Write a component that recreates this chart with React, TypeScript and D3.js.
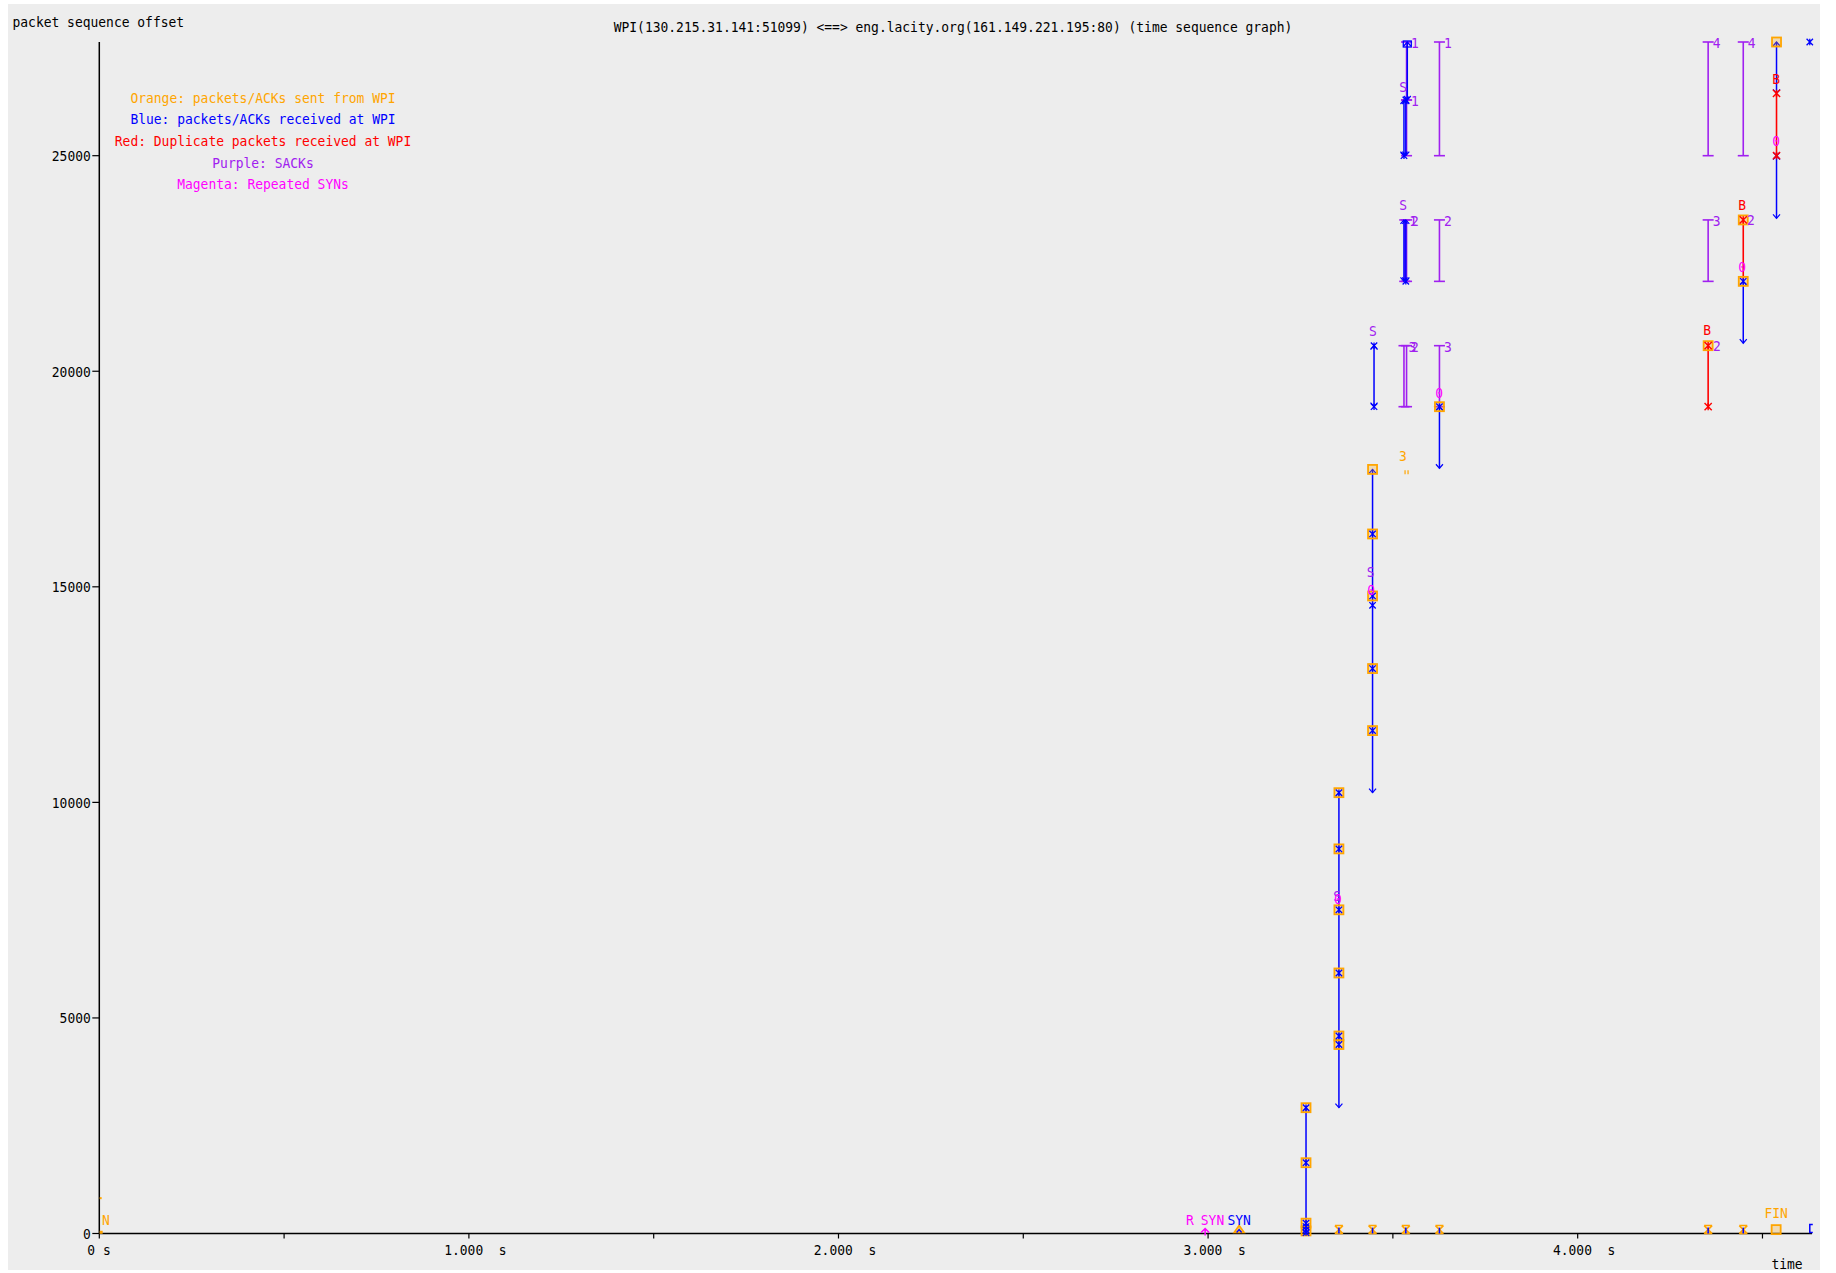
import React from 'react';
import * as d3 from 'd3';

const W = 1836;
const H = 1273;

const titleText = 'WPI(130.215.31.141:51099) <==> eng.lacity.org(161.149.221.195:80) (time sequence graph)';
const yAxisTitle = 'packet sequence offset';
const xAxisTitle = 'time';

const legendLines = [
  'Orange: packets/ACKs sent from WPI',
  'Blue: packets/ACKs received at WPI',
  'Red: Duplicate packets received at WPI',
  'Purple: SACKs',
  'Magenta: Repeated SYNs',
];

const ORANGE = '#ffa500';
const BLUE = '#0000ff';
const RED = '#ff0000';
const PURPLE = '#a020f0';
const MAGENTA = '#ff00ff';
const legendColors = [ORANGE, BLUE, RED, PURPLE, MAGENTA];

const xMax = 4.634;
const yMax = 27637;
const yTicks = [0, 5000, 10000, 15000, 20000, 25000];
const xMajorTicks = [0, 1, 2, 3, 4];
const xMajorLabels = ['0 s', '1.000  s', '2.000  s', '3.000  s', '4.000  s'];
const xMinorTicks = [0.5, 1.5, 2.5, 3.5, 4.5];

// blue segments received at WPI: [time, seqLow, seqHigh]
const blueSegments: [number, number, number][] = [
  [3.265, 0, 2918],
  [3.354, 2918, 10225],
  [3.445, 10225, 17723],
  [3.449, 19178, 20593],
  [3.539, 26292, 27637],
  [3.530, 25000, 26292],
  [3.535, 25000, 26292],
  [3.530, 22085, 23510],
  [3.535, 22085, 23510],
  [3.626, 17750, 19178],
  [4.448, 20650, 22085],
  [4.538, 23548, 25000],
  [4.538, 26447, 27637],
];

// red duplicate segments: [time, seqLow, seqHigh]
const redSegments: [number, number, number][] = [
  [4.353, 19178, 20593],
  [4.448, 22085, 23510],
  [4.538, 25000, 26447],
];

// purple SACK blocks: [time, seqLow, seqHigh, label]
const sackBars: [number, number, number, string][] = [
  [3.537, 26292, 27637, '1'],
  [3.537, 25000, 26292, '1'],
  [3.532, 22085, 23510, '1'],
  [3.537, 22085, 23510, '2'],
  [3.530, 19178, 20593, '3'],
  [3.537, 19178, 20593, '2'],
  [3.626, 25000, 27637, '1'],
  [3.626, 22085, 23510, '2'],
  [3.626, 19178, 20593, '3'],
  [4.353, 25000, 27637, '4'],
  [4.353, 22085, 23510, '3'],
  [4.448, 25000, 27637, '4'],
];

// orange squares: packets sent from WPI [time, seq]
const orangeBoxes: [number, number][] = [
  [3.265, 2918], [3.265, 1642], [3.265, 240], [3.265, 60],
  [3.354, 10225], [3.354, 8921], [3.354, 7508], [3.354, 6043], [3.354, 4581], [3.354, 4384],
  [3.445, 17723], [3.445, 16226], [3.445, 14788], [3.445, 13104], [3.445, 11665],
  [3.626, 19178],
  [4.353, 20593],
  [4.448, 23510], [4.448, 22085],
  [4.538, 27637],
  [4.537, 90],
];

// blue asterisk marks [time, seq]
const blueMarks: [number, number][] = [
  [3.265, 2918], [3.265, 1642], [3.265, 240], [3.265, 160], [3.265, 80], [3.265, 20],
  [3.354, 10225], [3.354, 8921], [3.354, 7508], [3.354, 6043], [3.354, 4581], [3.354, 4384],
  [3.445, 16226], [3.445, 14788], [3.445, 14570], [3.445, 13104], [3.445, 11665],
  [3.449, 20593], [3.449, 19178],
  [3.535, 26292], [3.530, 25000], [3.535, 22085],
  [3.626, 19178],
  [4.448, 22085], [4.538, 25000],
  [4.628, 27637],
];

// red asterisk marks [time, seq]
const redMarks: [number, number][] = [
  [4.353, 20593], [4.353, 19178], [4.448, 23510], [4.538, 26447], [4.538, 25000],
];

// small orange ACK marks along the bottom [time, seq]
const ackMarks: [number, number][] = [
  [3.354, 90], [3.445, 90], [3.535, 90], [3.626, 90], [4.353, 90], [4.448, 90],
];

// text annotations: [time, seq, text, color]
const annotations: [number, number, string, string][] = [
  [0.0176, 336, 'N', ORANGE],
  [2.951, 336, 'R', MAGENTA],
  [3.012, 336, 'SYN', MAGENTA],
  [3.084, 336, 'SYN', BLUE],
  [4.537, 476, 'FIN', ORANGE],
  [3.349, 7836, 'S', PURPLE],
  [3.351, 7760, '0', MAGENTA],
  [3.440, 15350, 'S', PURPLE],
  [3.441, 14930, '0', MAGENTA],
  [3.446, 20935, 'S', PURPLE],
  [3.528, 26601, 'S', PURPLE],
  [3.528, 23857, 'S', PURPLE],
  [3.527, 18056, '3', ORANGE],
  [3.625, 19503, '0', MAGENTA],
  [4.350, 20957, 'B', RED],
  [4.377, 20593, '2', PURPLE],
  [4.445, 23872, 'B', RED],
  [4.469, 23510, '2', PURPLE],
  [4.445, 22425, '0', MAGENTA],
  [4.537, 26795, 'B', RED],
  [4.537, 25348, '0', MAGENTA],
];

const CW = 7.8;
const FONT = 'DejaVu Sans Mono';

function Txt({ x, y, s, fill, anchor = 'start' }: { x: number; y: number; s: string; fill: string; anchor?: string }) {
  const len = s.length * CW;
  const x0 = anchor === 'middle' ? x - len / 2 : anchor === 'end' ? x - len : x;
  return (
    <text
      x={x0}
      y={y}
      fill={fill}
      fontFamily={FONT}
      fontSize={14.5}
      textLength={len}
      lengthAdjust="spacingAndGlyphs"
      xmlSpace="preserve"
      style={{ whiteSpace: 'pre' }}
    >
      {s}
    </text>
  );
}

export default function App() {
  const x = d3.scaleLinear().domain([0, xMax]).range([99.3, 1812]);
  const y = d3.scaleLinear().domain([0, yMax]).range([1233.5, 42]);
  const y0 = y(0);

  const asterisk = (cx: number, cy: number, s = 3.2) =>
    `M${cx - s},${cy - s}L${cx + s},${cy + s}M${cx - s},${cy + s}L${cx + s},${cy - s}M${cx},${cy - s}L${cx},${cy + s}`;
  const hourglass = (cx: number, cy: number, s = 4) =>
    `M${cx - s},${cy - s}H${cx + s}M${cx - s},${cy + s}H${cx + s}M${cx - s},${cy - s}L${cx + s},${cy + s}M${cx + s},${cy - s}L${cx - s},${cy + s}`;

  return (
    <svg width={W} height={H} style={{ position: 'absolute', left: 0, top: 0, display: 'block' }}>
      <rect x={0} y={0} width={W} height={H} fill="#ffffff" />
      <rect x={8} y={4} width={1812} height={1266} fill="#ededed" />

      {/* axes */}
      <line x1={x(0)} x2={x(0)} y1={y(yMax)} y2={y0} stroke="#000" strokeWidth={1.5} />
      <line x1={x(0)} x2={x(xMax)} y1={y0} y2={y0} stroke="#000" strokeWidth={1.5} />
      {yTicks.map((v) => (
        <g key={'yt' + v}>
          <line x1={x(0) - 7} x2={x(0)} y1={y(v)} y2={y(v)} stroke="#000" strokeWidth={1.2} />
          <Txt x={x(0) - 8.5} y={y(v) + 5.5} s={String(v)} fill="#000" anchor="end" />
        </g>
      ))}
      {xMajorTicks.map((t, i) => (
        <g key={'xt' + t}>
          <line x1={x(t)} x2={x(t)} y1={y0} y2={y0 + 5} stroke="#000" strokeWidth={1.2} />
          <Txt x={i === 0 ? x(t) - 12 : x(t) - 24.7} y={y0 + 21} s={xMajorLabels[i]} fill="#000" />
        </g>
      ))}
      {xMinorTicks.map((t) => (
        <line key={'xm' + t} x1={x(t)} x2={x(t)} y1={y0} y2={y0 + 5} stroke="#000" strokeWidth={1.2} />
      ))}

      {/* SACK bars */}
      {sackBars.map(([t, lo, hi, lab], i) => {
        const cx = x(t);
        return (
          <g key={'sack' + i} stroke={PURPLE} strokeWidth={1.6}>
            <line x1={cx} x2={cx} y1={y(lo)} y2={y(hi)} />
            <line x1={cx - 5.5} x2={cx + 5.5} y1={y(lo)} y2={y(lo)} />
            <line x1={cx - 5.5} x2={cx + 5.5} y1={y(hi)} y2={y(hi)} />
            <g stroke="none">
              <Txt x={cx + 4.5} y={y(hi) + 6} s={lab} fill={PURPLE} />
            </g>
          </g>
        );
      })}

      {/* blue segments */}
      {blueSegments.map(([t, lo, hi], i) => {
        const cx = x(t);
        const yl = y(lo);
        const yh = y(hi);
        return (
          <g key={'bs' + i} stroke={BLUE} strokeWidth={1.5} fill="none">
            <line x1={cx} x2={cx} y1={yl} y2={yh} />
            <path d={`M${cx - 3.5},${yh + 4}L${cx},${yh}L${cx + 3.5},${yh + 4}`} strokeWidth={1.2} />
            <path d={`M${cx - 3.5},${yl - 4}L${cx},${yl}L${cx + 3.5},${yl - 4}`} strokeWidth={1.2} />
          </g>
        );
      })}

      {/* red segments */}
      {redSegments.map(([t, lo, hi], i) => (
        <line key={'rs' + i} x1={x(t)} x2={x(t)} y1={y(lo)} y2={y(hi)} stroke={RED} strokeWidth={1.6} />
      ))}

      {/* orange boxes */}
      {orangeBoxes.map(([t, v], i) => (
        <rect
          key={'ob' + i}
          x={x(t) - 4.5}
          y={y(v) - 4.5}
          width={9}
          height={9}
          fill="rgba(255,165,0,0.25)"
          stroke={ORANGE}
          strokeWidth={1.8}
        />
      ))}

      {/* blue and red marks */}
      {blueMarks.map(([t, v], i) => (
        <path key={'bm' + i} d={asterisk(x(t), y(v))} stroke={BLUE} strokeWidth={1.3} fill="none" />
      ))}
      {redMarks.map(([t, v], i) => (
        <path key={'rm' + i} d={asterisk(x(t), y(v), 3.6)} stroke={RED} strokeWidth={1.4} fill="none" />
      ))}

      {/* ACK marks at bottom */}
      {ackMarks.map(([t, v], i) => (
        <g key={'ak' + i}>
          <path d={hourglass(x(t), y(v))} stroke={ORANGE} strokeWidth={1.5} fill="none" />
          <line x1={x(t)} x2={x(t)} y1={y(v) - 2} y2={y0} stroke={BLUE} strokeWidth={1.5} />
        </g>
      ))}

      {/* SYN / misc markers */}
      <path d={`M${x(2.992) - 4},${y0 - 1}L${x(2.992)},${y0 - 5}L${x(2.992) + 4},${y0 - 1}M${x(2.992)},${y0 - 5}V${y0 + 2}`} stroke={MAGENTA} strokeWidth={1.5} fill="none" />
      <path d={`M${x(3.084) - 5},${y0 - 1}L${x(3.084)},${y0 - 8}L${x(3.084) + 5},${y0 - 1}Z`} stroke={ORANGE} strokeWidth={1.6} fill="rgba(255,165,0,0.5)" />
      <path d={`M${x(3.084) - 2.5},${y0 - 1}L${x(3.084)},${y0 - 4}L${x(3.084) + 2.5},${y0 - 1}`} stroke={BLUE} strokeWidth={1.3} fill="none" />
      <path d={`M${x(4.628) + 3},${y0 - 9}H${x(4.628)}V${y0 - 1}H${x(4.628) + 3}`} stroke={BLUE} strokeWidth={1.5} fill="none" />
      <rect x={x(0.001)} y={y(820) - 1} width={2} height={2} fill={ORANGE} />
      <rect x={x(0.001)} y={y(40) - 1} width={3} height={3} fill={ORANGE} />
      <path d={`M${x(3.537) - 1.5},${y(17660) - 2}V${y(17660) + 2}M${x(3.537) + 1.5},${y(17660) - 2}V${y(17660) + 2}`} stroke={ORANGE} strokeWidth={1.2} />
      <rect x={x(3.539) - 4} y={y(yMax) - 1} width={8} height={6} fill="none" stroke={BLUE} strokeWidth={1.3} />

      {/* annotations */}
      {annotations.map(([t, v, s, c], i) => (
        <Txt key={'an' + i} x={x(t)} y={y(v) + 5.5} s={s} fill={c} anchor="middle" />
      ))}

      {/* titles */}
      <Txt x={12.5} y={27} s={yAxisTitle} fill="#000" />
      <Txt x={953} y={32} s={titleText} fill="#000" anchor="middle" />
      <Txt x={1787} y={1269} s={xAxisTitle} fill="#000" anchor="middle" />

      {/* legend */}
      {legendLines.map((s, i) => (
        <Txt key={'lg' + i} x={263} y={102.7 + i * 21.65} s={s} fill={legendColors[i]} anchor="middle" />
      ))}
    </svg>
  );
}
